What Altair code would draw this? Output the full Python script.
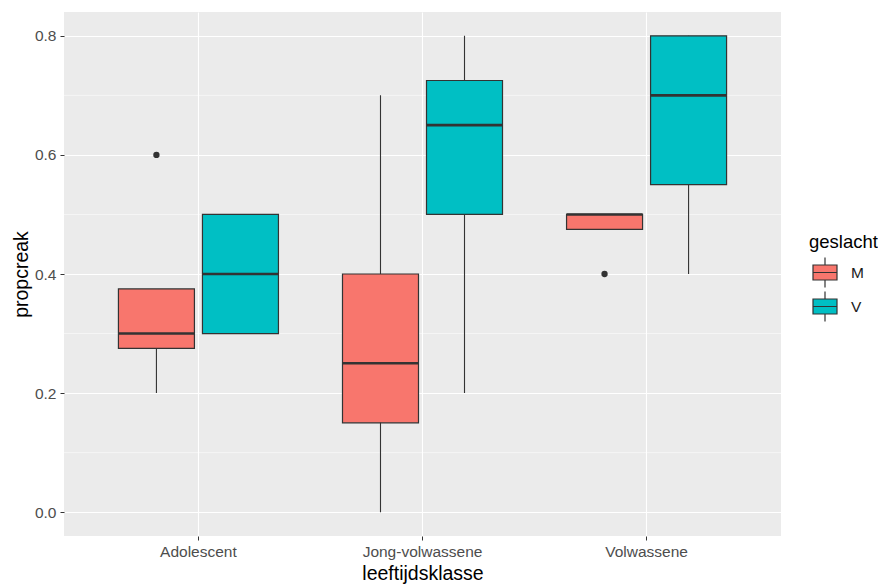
import altair as alt
import pandas as pd

categories = ["Adolescent", "Jong-volwassene", "Volwassene"]
genders = ["M", "V"]

# box statistics per (category, gender)
group_cat = ["Adolescent", "Adolescent", "Jong-volwassene", "Jong-volwassene", "Volwassene", "Volwassene"]
group_sex = ["M", "V", "M", "V", "M", "V"]
lower = [0.2, 0.3, 0.0, 0.2, 0.475, 0.4]
q1 = [0.275, 0.3, 0.15, 0.5, 0.475, 0.55]
median = [0.3, 0.4, 0.25, 0.65, 0.5, 0.7]
q3 = [0.375, 0.5, 0.4, 0.725, 0.5, 0.8]
upper = [0.375, 0.5, 0.7, 0.8, 0.5, 0.8]

out_cat = ["Adolescent", "Volwassene"]
out_sex = ["M", "M"]
out_val = [0.6, 0.4]

minor_grid = [0.1, 0.3, 0.5, 0.7]
major_ticks = [0.0, 0.2, 0.4, 0.6, 0.8]

colors = ["#F8766D", "#00BFC4"]

stats = pd.DataFrame({
    "leeftijdsklasse": group_cat, "geslacht": group_sex,
    "lower": lower, "q1": q1, "median": median, "q3": q3, "upper": upper,
})
outliers = pd.DataFrame({"leeftijdsklasse": out_cat, "geslacht": out_sex, "propcreak": out_val})
minor = pd.DataFrame({"v": minor_grid})

FONT = "Liberation Sans"
LABEL_SIZE = 15.5
TITLE_SIZE = 19.5

xscale = alt.Scale(domain=categories, paddingInner=0, paddingOuter=0.1)
xoff = alt.XOffset("geslacht:N", scale=alt.Scale(domain=genders, paddingInner=0.095, paddingOuter=0.381))
yscale = alt.Scale(domain=[-0.04, 0.84], nice=False, zero=False)

x_enc = alt.X("leeftijdsklasse:N", scale=xscale, sort=categories,
              axis=alt.Axis(title="leeftijdsklasse", labelAngle=0, grid=True, gridColor="white",
                            gridWidth=1.1, domain=False, tickColor="#333333", tickSize=4,
                            labelColor="#4D4D4D", labelFontSize=LABEL_SIZE, labelFont=FONT,
                            labelPadding=4, titleFont=FONT, titleFontSize=TITLE_SIZE,
                            titleFontWeight="normal", titleColor="black", titlePadding=5))
y_axis = alt.Axis(title="propcreak", values=major_ticks, format=".1f", grid=True, gridColor="white",
                  gridWidth=1.1, domain=False, tickColor="#333333", tickSize=4,
                  labelColor="#4D4D4D", labelFontSize=LABEL_SIZE, labelFont=FONT, labelPadding=4,
                  titleFont=FONT, titleFontSize=TITLE_SIZE, titleFontWeight="normal",
                  titleColor="black", titlePadding=3)

color_enc = alt.Color("geslacht:N", scale=alt.Scale(domain=genders, range=colors),
                      legend=alt.Legend(title="geslacht", orient="none", legendX=745, legendY=221,
                                        symbolType="M-0.8,-0.5H0.8V0.5H-0.8Z M-0.8,0H0.8 M0,-0.5V-1 M0,0.5V1",
                                        symbolSize=900, symbolStrokeColor="#333333",
                                        symbolStrokeWidth=1.2, symbolOpacity=1,
                                        titleFont=FONT, titleFontSize=18.5, titleFontWeight="normal",
                                        titleColor="black", labelFont=FONT, labelFontSize=LABEL_SIZE,
                                        labelColor="#1A1A1A", rowPadding=-8, titlePadding=5,
                                        labelOffset=10))

minor_layer = alt.Chart(minor).mark_rule(color="white", strokeWidth=0.55).encode(
    y=alt.Y("v:Q", scale=yscale, axis=y_axis)
)

base = alt.Chart(stats)

whiskers = base.mark_rule(color="#333333", strokeWidth=1.1).encode(
    x=x_enc, xOffset=xoff,
    y=alt.Y("lower:Q", scale=yscale, axis=y_axis), y2="upper:Q",
)

boxes = base.mark_bar(width=76, stroke="#333333", strokeWidth=1.2, opacity=1).encode(
    x=x_enc, xOffset=xoff,
    y=alt.Y("q1:Q", scale=yscale, axis=y_axis), y2="q3:Q",
    color=color_enc,
)

medians = base.mark_tick(size=76, thickness=2.6, color="#333333", opacity=1).encode(
    x=x_enc, xOffset=xoff,
    y=alt.Y("median:Q", scale=yscale, axis=y_axis),
)

points = alt.Chart(outliers).mark_circle(size=40, color="#333333", opacity=1).encode(
    x=x_enc, xOffset=xoff,
    y=alt.Y("propcreak:Q", scale=yscale, axis=y_axis),
)

chart = alt.layer(minor_layer, whiskers, boxes, medians, points).properties(
    width=717, height=524,
    autosize=alt.AutoSizeParams(type="none"),
    padding={"left": 56, "top": 4, "right": 97, "bottom": 49},
).configure_view(stroke=None, fill="#EBEBEB")

chart.save("out.html", embed_options={"renderer": "svg", "actions": False})
